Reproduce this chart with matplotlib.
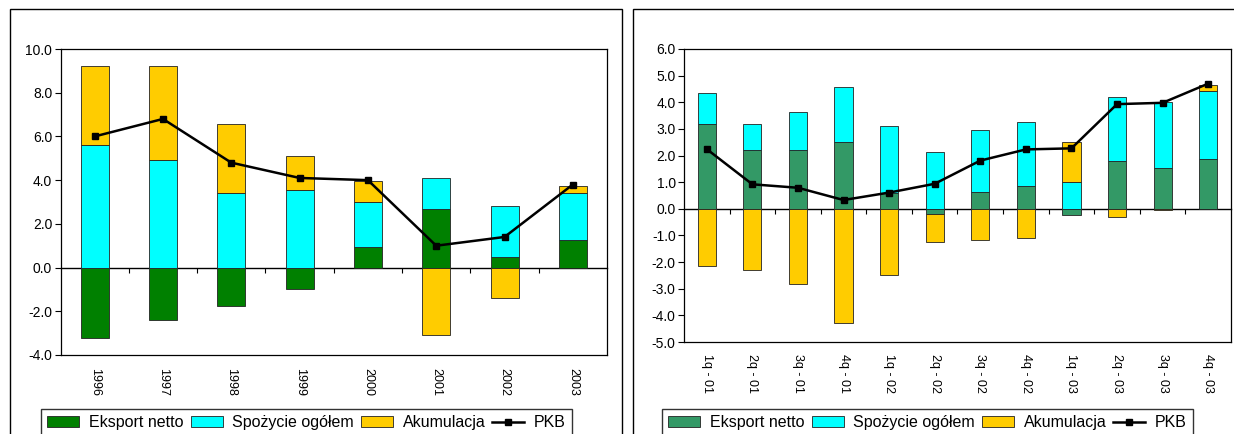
import numpy as np
import matplotlib
matplotlib.use("Agg")
import matplotlib.pyplot as plt
from matplotlib.patches import Rectangle

plt.rcParams.update({"font.family": "Liberation Sans", "font.size": 9})

# ---- data: annual (left) ----
years = ["1996", "1997", "1998", "1999", "2000", "2001", "2002", "2003"]
eksport_y = [-3.2, -2.4, -1.75, -1.0, 0.95, 2.7, 0.5, 1.25]
spozycie_y = [5.6, 4.9, 3.4, 3.55, 2.05, 1.4, 2.3, 2.15]
akum_y = [3.6, 4.3, 3.15, 1.55, 0.95, -3.1, -1.4, 0.35]
pkb_y = [6.0, 6.8, 4.8, 4.1, 4.0, 1.0, 1.4, 3.8]

# ---- data: quarterly (right) ----
quarters = ["1q - 01", "2q - 01", "3q - 01", "4q - 01", "1q - 02", "2q - 02",
            "3q - 02", "4q - 02", "1q - 03", "2q - 03", "3q - 03", "4q - 03"]
eksport_q = [3.2, 2.2, 2.2, 2.5, 0.6, -0.2, 0.62, 0.86, -0.25, 1.8, 1.52, 1.88]
spozycie_q = [1.15, 0.98, 1.44, 2.08, 2.5, 2.12, 2.33, 2.4, 1.0, 2.4, 2.5, 2.55]
akum_q = [-2.15, -2.28, -2.84, -4.27, -2.5, -1.05, -1.17, -1.08, 1.5, -0.3, -0.06, 0.22]
pkb_q = [2.24, 0.92, 0.79, 0.33, 0.61, 0.94, 1.81, 2.23, 2.27, 3.93, 3.98, 4.7]

CYAN = "#00FFFF"; YELLOW = "#FFCC00"; GREEN_L = "#008000"; GREEN_R = "#339966"
W, H = 1234, 434


def stacked(ax, cats, series, colors, pkb, ylim, yticks, width):
    x = np.arange(len(cats))
    pos = np.zeros(len(cats)); neg = np.zeros(len(cats))
    handles = []
    for vals, col in zip(series, colors):
        v = np.array(vals, dtype=float)
        bottom = np.where(v >= 0, pos, neg)
        h = ax.bar(x, v, width, bottom=bottom, color=col, edgecolor="#222222",
                   linewidth=0.6, zorder=2)
        handles.append(h)
        pos = pos + np.clip(v, 0, None); neg = neg + np.clip(v, None, 0)
    ln, = ax.plot(x, pkb, color="black", lw=1.8, marker="s", ms=5, zorder=4)
    handles.append(ln)
    ax.set_xlim(-0.5, len(cats) - 0.5)
    ax.set_ylim(*ylim)
    ax.set_yticks(yticks)
    ax.set_yticklabels([f"{t:.1f}" for t in yticks], fontsize=10)
    ax.set_xticks(x)
    ax.set_xticklabels(cats, rotation=270, ha="center", va="top")
    ax.tick_params(axis="x", length=0, pad=9)
    ax.tick_params(axis="y", direction="out", length=4, width=0.8, pad=2)
    for s in ax.spines.values():
        s.set_linewidth(0.9); s.set_color("black")
    # zero line with category-boundary ticks
    zf = (0 - ylim[0]) / (ylim[1] - ylim[0])
    sec = ax.secondary_xaxis(zf)
    sec.set_xticks(np.arange(len(cats) - 1) + 0.5)
    sec.tick_params(labelbottom=False, labeltop=False, direction="out", length=3.5, width=0.8)
    for s in sec.spines.values():
        s.set_linewidth(1.0)
    return handles


fig = plt.figure(figsize=(W / 100, H / 100), dpi=100)

# panel frames
fig.patches.append(Rectangle((9.5 / W, -0.1), (622 - 9.5) / W, 1.1 - 9 / H,
                             transform=fig.transFigure, fill=False, ec="black", lw=1))
fig.patches.append(Rectangle((633 / W, -0.1), 0.5, 1.1 - 9 / H,
                             transform=fig.transFigure, fill=False, ec="black", lw=1))

ax1 = fig.add_axes([60.5 / W, (H - 355) / H, (607 - 60.5) / W, (355 - 49) / H])
h1 = stacked(ax1, years, [eksport_y, spozycie_y, akum_y], [GREEN_L, CYAN, YELLOW],
             pkb_y, (-4, 10), np.arange(-4, 10.1, 2), 0.41)

ax2 = fig.add_axes([684 / W, (H - 342) / H, (1231 - 684) / W, (342 - 49) / H])
h2 = stacked(ax2, quarters, [eksport_q, spozycie_q, akum_q], [GREEN_R, CYAN, YELLOW],
             pkb_q, (-5, 6), np.arange(-5, 6.1, 1), 0.40)

labels = ["Eksport netto", "Spożycie ogółem", "Akumulacja", "PKB"]
for h, x0 in [(h1, 41), (h2, 662)]:
    leg = fig.legend(h, labels, loc="upper left", bbox_to_anchor=(x0 / W, 1 - 409 / H),
                     ncol=4, fontsize=11.5, frameon=True, fancybox=False,
                     edgecolor="black", handlelength=2.0, handleheight=0.65,
                     handletextpad=0.6, columnspacing=0.45, borderpad=0.4,
                     borderaxespad=0)
    leg.get_frame().set_linewidth(1.0)

fig.savefig("out.png", dpi=100)
